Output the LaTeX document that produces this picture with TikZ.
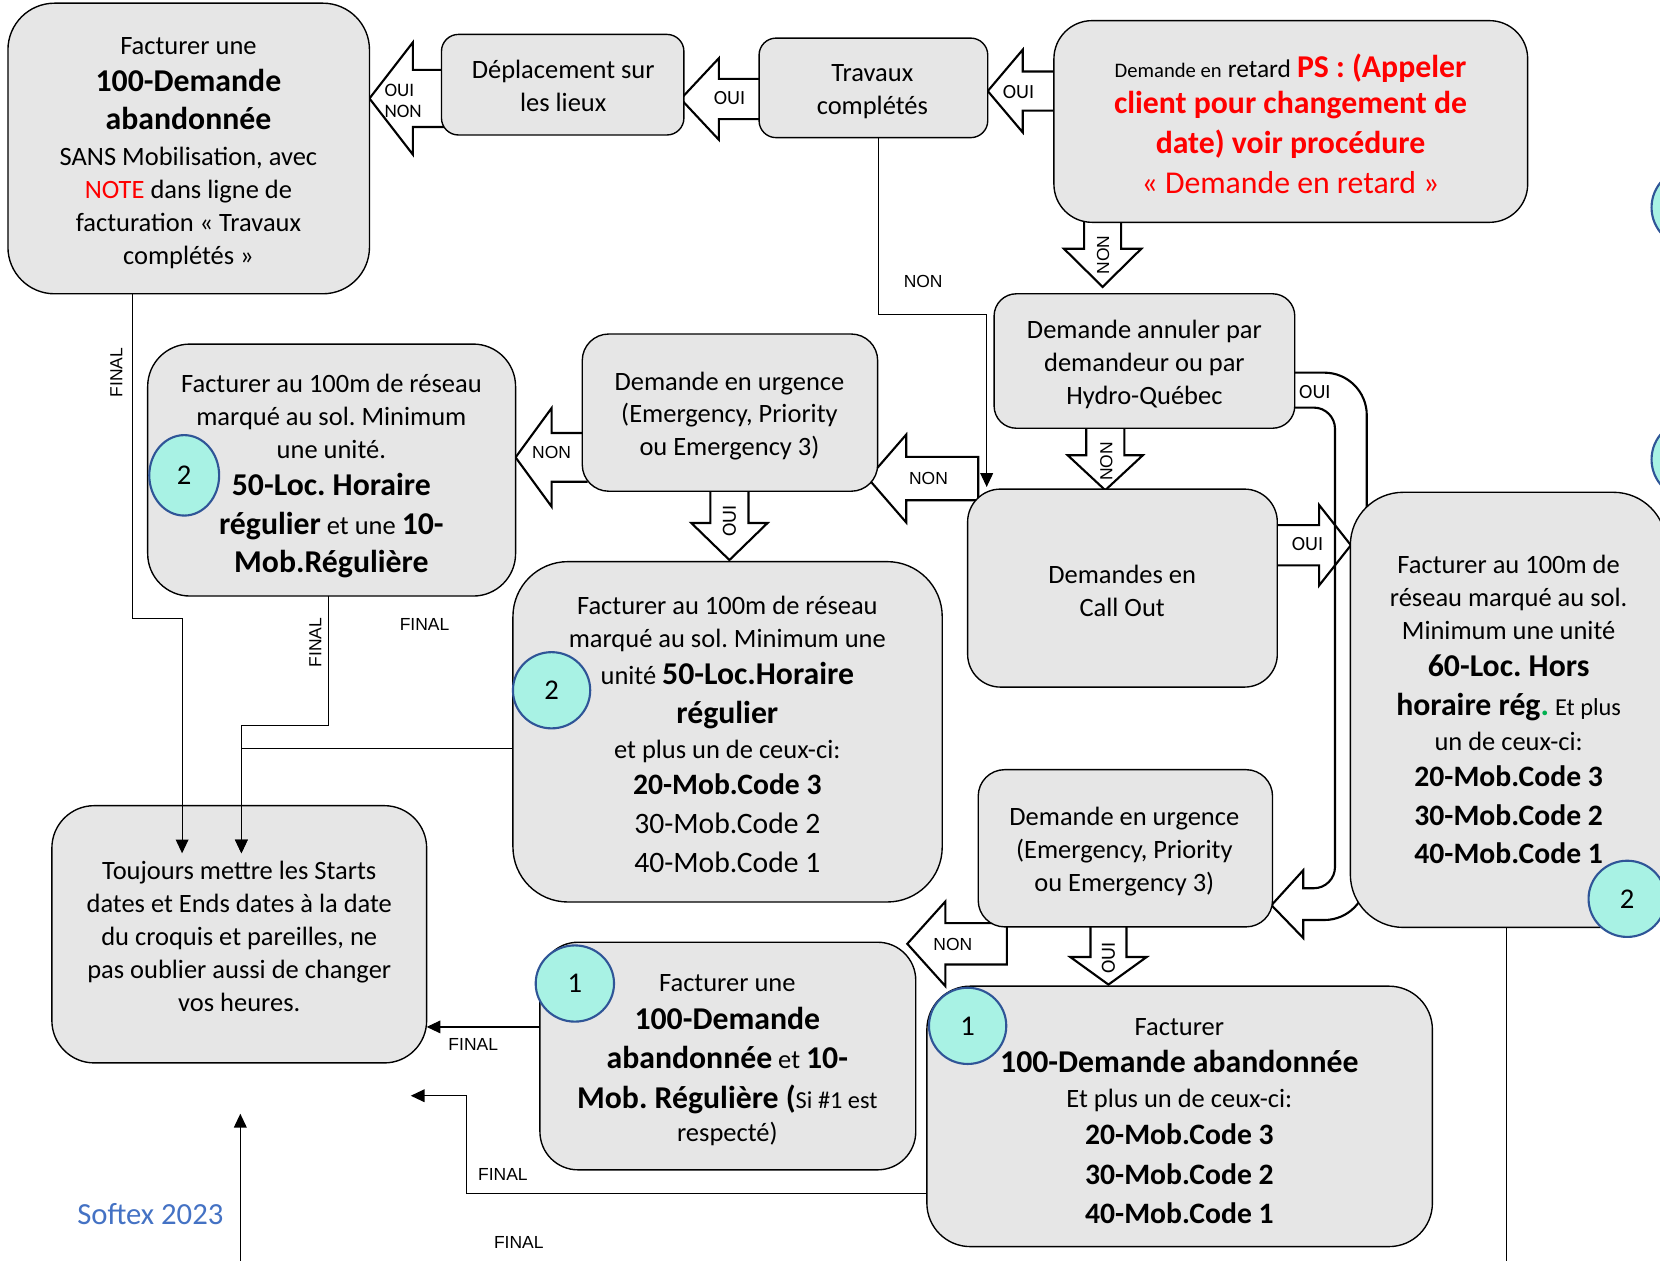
\documentclass[tikz,border=0pt]{standalone}
\usepackage{fontspec}
\setmainfont{Carlito}
\newfontfamily\arialf{Liberation Sans}
\usetikzlibrary{arrows.meta,shapes.geometric}
\definecolor{boxgray}{RGB}{230,230,230}
\definecolor{circfill}{RGB}{168,242,228}
\definecolor{circedge}{RGB}{47,85,151}
\definecolor{dotgreen}{RGB}{0,176,80}
\definecolor{softblue}{RGB}{68,114,196}
\frenchspacing
\newcommand\fsz[1]{\fontsize{#1}{#1}\selectfont}
% block arrows: left / down / right
\newcommand\barrL[6]{\path[barrow] ({#4},{#2-#6}) -- ({#3},{#2-#6}) -- ({#3},{#2-#5}) -- ({#1},{#2}) -- ({#3},{#2+#5}) -- ({#3},{#2+#6}) -- ({#4},{#2+#6});}
\newcommand\barrLc[6]{\path[barrow] ({#4},{#2-#6}) -- ({#3},{#2-#6}) -- ({#3},{#2-#5}) -- ({#1},{#2}) -- ({#3},{#2+#5}) -- ({#3},{#2+#6}) -- ({#4},{#2+#6}) -- cycle;}
\newcommand\barrD[6]{\path[barrow] ({#1-#6},{#4}) -- ({#1-#6},{#3}) -- ({#1-#5},{#3}) -- ({#1},{#2}) -- ({#1+#5},{#3}) -- ({#1+#6},{#3}) -- ({#1+#6},{#4});}
\newcommand\barrR[6]{\path[barrow,fill=none] ({#4},{#2-#6}) -- ({#3},{#2-#6}) -- ({#3},{#2-#5}) -- ({#1},{#2}) -- ({#3},{#2+#5}) -- ({#3},{#2+#6}) -- ({#4},{#2+#6});}
\tikzset{
  box/.style={draw=black, line width=1.3pt, fill=boxgray, rounded corners=#1, inner sep=0pt, outer sep=0pt},
  box/.default=20,
  txt/.style={align=center, font=\fontsize{25}{31}\selectfont, inner sep=0pt},
  barrow/.style={draw=black, fill=white, line width=2pt, line join=miter},
  conn/.style={draw=black, line width=1.1pt},
  arrtip/.style={-{Triangle[length=13pt,width=12pt]}},
  badge/.style={ellipse, draw=circedge, line width=2pt, fill=circfill, inner sep=0pt, font=\fontsize{27}{27}\selectfont},
  lab/.style={font=\arialf\fontsize{16.5}{18}\selectfont, inner sep=0pt},
  alab/.style={font=\fontsize{19}{20}\selectfont, inner sep=0pt},
}
\begin{document}
\begin{tikzpicture}[x=1pt,y=-1pt]
\useasboundingbox (0,0) rectangle (1568,1191);
\clip (0,0) rectangle (1568,1191);
\fill[white] (0,0) rectangle (1568,1191);

% curved OUI arrow from E to L
\path[barrow] (1215,352) -- (1251,352) .. controls (1273,352) and (1291,370) .. (1291,392) -- (1291,829) .. controls (1291,851) and (1273,869) .. (1251,869) -- (1231,869) -- (1231,886) -- (1201,855) -- (1231,822) -- (1231,839) -- (1241,839) .. controls (1252,839) and (1261,830) .. (1261,819) -- (1261,405) .. controls (1261,394) and (1252,385) .. (1241,385) -- (1215,385);

% block arrows
\barrL{349}{93}{390}{425}{53}{27}
\barrL{643}{93.5}{679}{722}{38.5}{19}
\barrL{933}{86}{966}{1000}{39}{18.5}
\barrD{1041.5}{271}{235}{205}{36.5}{17.5}
\barrLc{820}{452}{856}{924}{41.5}{20.5}
\barrL{487}{432}{521}{555}{46.5}{23}
\barrD{689}{529}{494}{458}{36}{18}
\barrD{1044}{463}{430}{400}{35.5}{18}
\barrR{1276}{515}{1246}{1200}{38}{19}
\barrLc{857}{891.5}{893}{951}{40}{19.5}
\barrD{1047}{930}{904}{870}{36}{17}

% boxes
\node[box=44, minimum width=341.5, minimum height=274.5] (A) at (178.25,140.25) {};
\node[box=16, minimum width=229, minimum height=95] (B) at (531.5,80) {};
\node[box=16, minimum width=216, minimum height=94] (C) at (825,83) {};
\node[box=36, minimum width=447.5, minimum height=190.5] (D) at (1219.25,114.75) {};
\node[box=21, minimum width=284, minimum height=127] (E) at (1081,341) {};
\node[box=40, minimum width=347.5, minimum height=238] (F) at (313.25,444) {};
\node[box=25, minimum width=279, minimum height=148.5] (G) at (689.5,389.75) {};
\node[box=31, minimum width=292.5, minimum height=187] (H) at (1060.25,555.5) {};
\node[box=50, minimum width=298.5, minimum height=411] (I) at (1424.75,670.5) {};
\node[box=52, minimum width=405.5, minimum height=321.5] (J) at (687.25,691.25) {};
\node[box=40, minimum width=354, minimum height=243] (K) at (226,882.5) {};
\node[box=25, minimum width=278, minimum height=148.5] (L) at (1063,801.25) {};
\node[box=36, minimum width=355, minimum height=215] (M) at (687.5,997.5) {};
\node[box=41, minimum width=477.5, minimum height=246] (N) at (1114.25,1054.5) {};

% texts
\node[txt] (At) at (178,144.5) {Facturer une\\[4pt]
  {\fsz{30}\bfseries 100-Demande}\\[5pt]
  {\fsz{30}\bfseries abandonnée}\\[3pt]
  SANS Mobilisation, avec\\
  {\color{red}NOTE} dans ligne de\\
  facturation « Travaux\\
  complétés »};
\node[txt] (Bt) at (532,81.5) {Déplacement sur\\les lieux};
\node[txt] (Ct) at (824,86.5) {Travaux\\complétés};
\node[txt] (Dt) at (1219,117) {{\fsz{19.5}Demande en} {\fsz{24}retard} {\fsz{30}\bfseries\color{red}PS : (Appeler}\\[3pt]
  {\fsz{30}\bfseries\color{red}client pour changement de}\\[6pt]
  {\fsz{30}\bfseries\color{red}date) voir procédure}\\[7pt]
  {\fsz{30}\color{red}« Demande en retard »}};
\node[txt] (Et) at (1081,344) {Demande annuler par\\demandeur ou par\\Hydro-Québec};
\node[txt] (Ft) at (313,449.5) {Facturer au 100m de réseau\\
  marqué au sol. Minimum\\
  une unité.\\[4pt]
  {\fsz{30}\bfseries 50-Loc. Horaire}\\[6pt]
  {\fsz{30}\bfseries régulier} et une {\fsz{30}\bfseries 10-}\\[5pt]
  {\fsz{30}\bfseries Mob.Régulière}};
\node[txt] (Gt) at (689,393) {Demande en urgence\\(Emergency, Priority\\ou Emergency 3)};
\node[txt] (Ht) at (1060,558.5) {Demandes en\\Call Out};
\node[txt] (It) at (1425,670.5) {Facturer au 100m de\\
  réseau marqué au sol.\\
  Minimum une unité\\[4pt]
  {\fsz{30}\bfseries 60-Loc. Hors}\\[6pt]
  {\fsz{30}\bfseries horaire rég}{\fsz{30}\bfseries\color{dotgreen}.} {\fsz{23}Et plus}\\[2pt]
  un de ceux-ci:\\[3pt]
  {\fsz{28}\bfseries 20-Mob.Code 3}\\[6pt]
  {\fsz{28}\bfseries 30-Mob.Code 2}\\[5pt]
  {\fsz{28}\bfseries 40-Mob.Code 1}};
\node[txt] (Jt) at (687,694) {Facturer au 100m de réseau\\
  marqué au sol. Minimum une\\[4pt]
  unité {\fsz{30}\bfseries 50-Loc.Horaire}\\[6pt]
  {\fsz{30}\bfseries régulier}\\[2pt]
  et plus un de ceux-ci:\\[3pt]
  {\fsz{28}\bfseries 20-Mob.Code 3}\\[6pt]
  {\fsz{28}30-Mob.Code 2}\\[6pt]
  {\fsz{28}40-Mob.Code 1}};
\node[txt] (Kt) at (226,884.5) {Toujours mettre les Starts\\
  dates et Ends dates à la date\\
  du croquis et pareilles, ne\\
  pas oublier aussi de changer\\
  vos heures.};
\node[txt] (Lt) at (1062,804.5) {Demande en urgence\\(Emergency, Priority\\ou Emergency 3)};
\node[txt] (Mt) at (687,1001.5) {Facturer une\\[4pt]
  {\fsz{30}\bfseries 100-Demande}\\[6pt]
  {\fsz{30}\bfseries abandonnée} et {\fsz{30}\bfseries 10-}\\[7pt]
  {\fsz{30}\bfseries Mob. Régulière (}{\fsz{23}Si \#1 est}\\
  respecté)};
\node[txt] (Nt) at (1114,1059) {Facturer\\[4pt]
  {\fsz{30}\bfseries 100-Demande abandonnée}\\[2pt]
  Et plus un de ceux-ci:\\[4pt]
  {\fsz{28}\bfseries 20-Mob.Code 3}\\[6pt]
  {\fsz{28}\bfseries 30-Mob.Code 2}\\[6pt]
  {\fsz{28}\bfseries 40-Mob.Code 1}};

% badges
\node[badge, minimum width=66, minimum height=76] (c1) at (174,449) {2};
\node[badge, minimum width=73, minimum height=72] (c2) at (521,652) {2};
\node[badge, minimum width=73, minimum height=72] (c3) at (1537,849) {2};
\node[badge, minimum width=74, minimum height=72] (c4) at (543,929) {1};
\node[badge, minimum width=73, minimum height=72] (c5) at (914,969) {1};
\node[badge, minimum width=74, minimum height=74] (c6) at (1597,196) {};
\node[badge, minimum width=74, minimum height=74] (c7) at (1597,434) {};

% thin connectors
\coordinate (hin) at (932,460);
\coordinate (kin1) at (172,806);
\coordinate (kin2) at (228,806);
\coordinate (kout) at (388,1035);
\coordinate (gbot) at (227,1195);
\coordinate (gtop) at (227,1052);
\coordinate (ibot) at (1423,1195);
\draw[conn,arrtip] (830,0 |- C.south) -- (830,297) -| (hin);
\draw[conn,arrtip] (125,0 |- A.south) -- (125,584) -| (kin1);
\draw[conn,arrtip] (310,0 |- F.south) -- (310,685) -| (kin2);
\draw[conn,arrtip] (J.west |- 0,707) -| (kin2);
\draw[conn,arrtip] (M.west |- 0,970) -- (K.east |- 0,970);
\draw[conn,arrtip] (N.west |- 0,1127) -| (441,1035) -- (kout);
\draw[conn,arrtip] (gbot) -- (gtop);
\draw[conn] (1423,0 |- I.south) -- (ibot);

% labels
\node[alab, anchor=west, align=left, font=\fontsize{18}{20}\selectfont] (l1) at (363,95) {OUI\\NON};
\node[alab] (l2) at (689,93) {OUI};
\node[alab] (l3) at (962,87) {OUI};
\node[lab, rotate=90] (l4) at (1042,241) {NON};
\node[lab] (l5) at (877,452) {NON};
\node[lab] (l6) at (521,427) {NON};
\node[alab, rotate=90] (l7) at (689,492) {OUI};
\node[lab, rotate=90] (l8) at (1045,436) {NON};
\node[alab] (l9) at (1235,514) {OUI};
\node[alab] (l10) at (1242,370) {OUI};
\node[lab] (l11) at (900,892) {NON};
\node[alab, rotate=90] (l12) at (1047,905) {OUI};
\node[lab] (l13) at (872,266) {NON};
\node[lab, rotate=90] (f1) at (110,352) {FINAL};
\node[lab, rotate=90] (f2) at (298,607) {FINAL};
\node[lab] (f3) at (401,590) {FINAL};
\node[lab] (f4) at (447,987) {FINAL};
\node[lab] (f5) at (475,1109) {FINAL};
\node[lab] (f6) at (490,1174) {FINAL};
\node[inner sep=0pt, font=\fontsize{29}{30}\selectfont, text=softblue] (soft) at (142,1147) {Softex 2023};
\end{tikzpicture}
\end{document}
